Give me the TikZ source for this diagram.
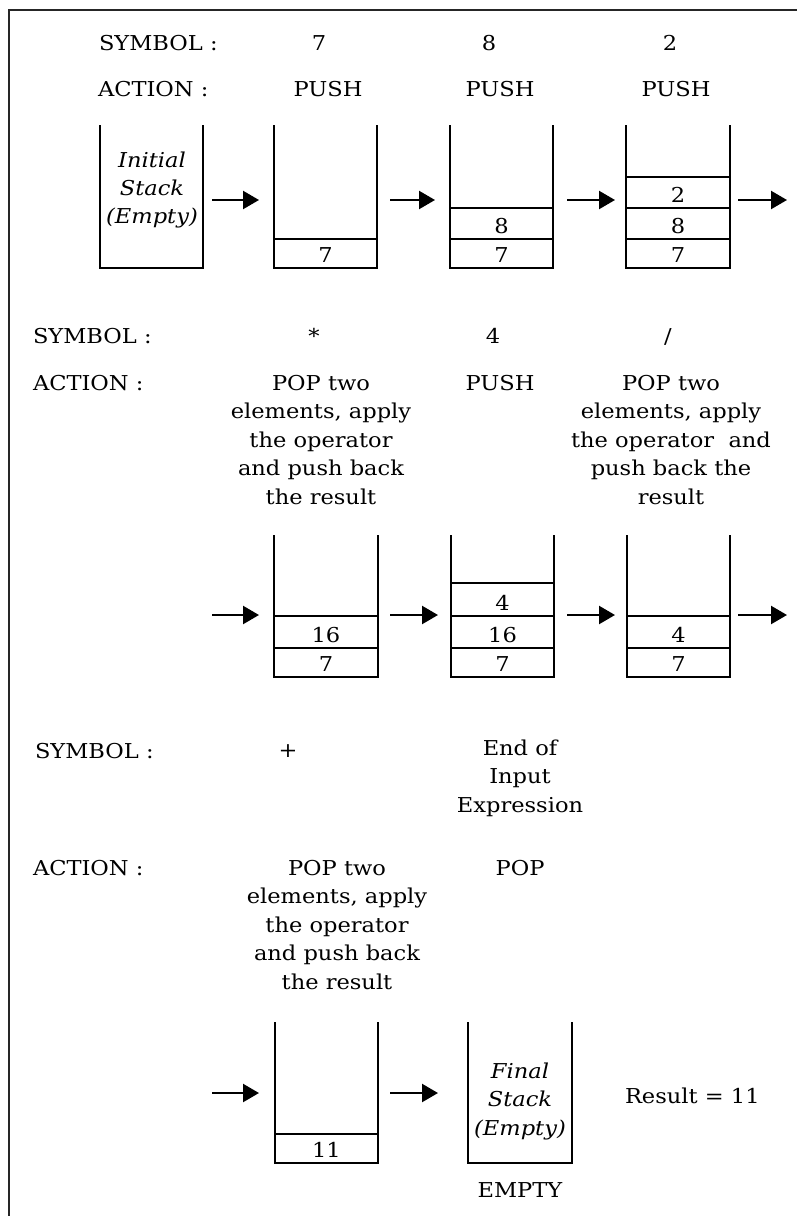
\documentclass[tikz,border=0pt]{standalone}
\usepackage{fontspec}
\setmainfont{DejaVu Serif}[FakeStretch=1.1]
\usetikzlibrary{arrows.meta,calc,fit}
\tikzset{
  lbl/.style={inner sep=0pt, outer sep=0pt, font=\fontsize{20.5}{28.5}\selectfont, text=black},
  stk/.style={inner sep=0pt, outer sep=0pt, draw=none},
  wall/.style={line width=2.3pt, line join=miter, black},
  celline/.style={line width=1.8pt, black},
  arr/.style={line width=2.3pt, black, -{Triangle[length=16pt,width=18pt]}},
  frame/.style={line width=2.2pt, black!85}
}
\newcommand{\stackbox}[5]{%
  \node[stk, fit={(#2,#4) (#3,#5)}] (#1) {};
  \draw[wall] (#1.north west) -- (#1.south west) -- (#1.south east) -- (#1.north east);}
\newcommand{\celltxt}[4]{% stack, upper y, lower y, text
  \draw[celline] (#1.west |- 0,#2) -- (#1.east |- 0,#2);
  \node[lbl, anchor=base] (#1c#4) at ($(#1.south |- 0,#3)+(0,-5.5)$) {#4};}
\newcommand{\ml}[1]{\begin{tabular}[t]{@{}c@{}}#1\end{tabular}}
\begin{document}
\begin{tikzpicture}[x=1pt,y=-1pt]
\useasboundingbox (0,0) rectangle (796,1216);
\fill[white] (0,0) rectangle (796,1216);
\draw[frame] (9,1217) -- (9,10) -- (797,10);

% ---------- Row 1 ----------
\node[lbl, anchor=base west] (sym1) at (99,50) {SYMBOL :};
\node[lbl, anchor=base west] (act1) at (98,96) {ACTION :};
\node[lbl, anchor=base] (s1a) at (319,50) {7};
\node[lbl, anchor=base] (s1b) at (489,50) {8};
\node[lbl, anchor=base] (s1c) at (670,50) {2};
\node[lbl, anchor=base] (a1a) at (328,96) {PUSH};
\node[lbl, anchor=base] (a1b) at (500,96) {PUSH};
\node[lbl, anchor=base] (a1c) at (676,96) {PUSH};

\stackbox{sa}{100}{203}{125}{268}
\node[lbl, anchor=base, font=\fontsize{20.5}{28}\selectfont\itshape] (init) at (152,167) {\ml{Initial\\Stack\\(Empty)}};
\stackbox{sb}{274}{377}{125}{268}
\celltxt{sb}{239}{268}{7}
\stackbox{sc}{450}{553}{125}{268}
\celltxt{sc}{239}{268}{7}
\celltxt{sc}{208}{239}{8}
\stackbox{sd}{626}{730}{125}{268}
\celltxt{sd}{239}{268}{7}
\celltxt{sd}{208}{239}{8}
\celltxt{sd}{177}{208}{2}
\coordinate (r1) at (0,200);
\coordinate (out1) at (787,200);
\draw[arr] ($(sa.east |- r1)+(9,0)$) -- ($(sb.west |- r1)+(-15,0)$);
\draw[arr] ($(sb.east |- r1)+(13,0)$) -- ($(sc.west |- r1)+(-15,0)$);
\draw[arr] ($(sc.east |- r1)+(14,0)$) -- ($(sd.west |- r1)+(-11,0)$);
\draw[arr] ($(sd.east |- r1)+(8,0)$) -- (out1);

% ---------- Row 2 ----------
\node[lbl, anchor=base west] (sym2) at (33,343) {SYMBOL :};
\node[lbl, anchor=base west] (act2) at (33,390) {ACTION :};
\node[lbl, anchor=base] (s2a) at (314,343) {*};
\node[lbl, anchor=base] (s2b) at (493,343) {4};
\node[lbl, anchor=base] (s2c) at (668,343) {/};
\node[lbl, anchor=base] (a2a) at (321,390) {\ml{POP two\\elements, apply\\the operator\\and push back\\the result}};
\node[lbl, anchor=base] (a2b) at (500,390) {PUSH};
\node[lbl, anchor=base] (a2c) at (671,390) {\ml{POP two\\elements, apply\\the operator\ \ and\\push back the\\result}};

\stackbox{ta}{274}{378}{535}{677}
\celltxt{ta}{648}{677}{7}
\celltxt{ta}{616}{648}{16}
\stackbox{tb}{451}{554}{535}{677}
\celltxt{tb}{648}{677}{7}
\celltxt{tb}{616}{648}{16}
\celltxt{tb}{583}{616}{4}
\stackbox{tc}{627}{730}{535}{677}
\celltxt{tc}{648}{677}{7}
\celltxt{tc}{616}{648}{4}
\coordinate (r2) at (0,615);
\coordinate (in2) at (212,615);
\coordinate (out2) at (787,615);
\draw[arr] (in2) -- ($(ta.west |- r2)+(-15,0)$);
\draw[arr] ($(ta.east |- r2)+(12,0)$) -- ($(tb.west |- r2)+(-13,0)$);
\draw[arr] ($(tb.east |- r2)+(13,0)$) -- ($(tc.west |- r2)+(-12,0)$);
\draw[arr] ($(tc.east |- r2)+(8,0)$) -- (out2);

% ---------- Row 3 ----------
\node[lbl, anchor=base west] (sym3) at (35,758) {SYMBOL :};
\node[lbl, anchor=base west] (act3) at (33,875) {ACTION :};
\node[lbl, anchor=base] (s3a) at (288,757) {+};
\node[lbl, anchor=base] (s3b) at (520,755) {\ml{End of\\Input\\Expression}};
\node[lbl, anchor=base] (a3a) at (337,875) {\ml{POP two\\elements, apply\\the operator\\and push back\\the result}};
\node[lbl, anchor=base] (a3b) at (520,875) {POP};

\stackbox{ua}{275}{378}{1022}{1163}
\celltxt{ua}{1134}{1163}{11}
\stackbox{ub}{468}{572}{1022}{1163}
\node[lbl, anchor=base, font=\fontsize{20.5}{28.5}\selectfont\itshape] (fin) at (520,1078) {\ml{Final\\Stack\\(Empty)}};
\node[lbl, anchor=base] (empty) at (520,1197) {EMPTY};
\node[lbl, anchor=base west] (res) at (625,1103) {Result = 11};
\coordinate (r3) at (0,1093);
\coordinate (in3) at (212,1093);
\draw[arr] (in3) -- ($(ua.west |- r3)+(-16,0)$);
\draw[arr] ($(ua.east |- r3)+(12,0)$) -- ($(ub.west |- r3)+(-30,0)$);
\end{tikzpicture}
\end{document}
